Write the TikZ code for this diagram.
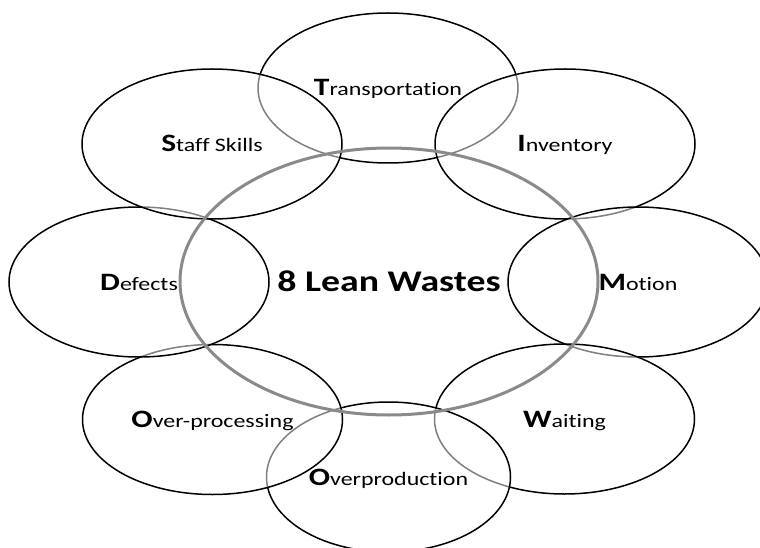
\documentclass[tikz,border=0pt]{standalone}
\usepackage{graphicx}
\usepackage{fontspec}
\setmainfont{Carlito}[Ligatures={NoCommon}]
\usetikzlibrary{shapes.geometric}
\newcommand{\wastelabel}[2]{\scalebox{1.26}[1]{\fontsize{25}{25}\selectfont\bfseries #1\fontsize{19}{19}\selectfont\mdseries #2}}
\definecolor{ringgrey}{RGB}{138,138,138}
\begin{document}
\begin{tikzpicture}[x=1pt,y=-1pt,
  waste/.style={ellipse, draw=black, line width=1.5pt, fill=white, fill opacity=0.5, text opacity=1,
    inner sep=0pt, minimum width=260pt, minimum height=150pt, text height=16pt, text depth=0pt},
  hub/.style={ellipse, draw=ringgrey, line width=3pt, inner sep=0pt,
    minimum width=418pt, minimum height=267pt, text height=19.5pt, text depth=0pt}]
\useasboundingbox (0,0) rectangle (760,548);
\clip (0,0) rectangle (760,548);
\node[waste] (trans) at (388,88) {\wastelabel{T}{ransportation}};
\node[waste] (inv) at (565,144) {\wastelabel{I}{nventory}};
\node[waste] (motion) at (638,282) {\wastelabel{M}{otion}};
\node[waste] (wait) at (564.5,419) {\wastelabel{W}{aiting}};
\node[waste, minimum width=244pt] (overprod) at (388.5,477) {\wastelabel{O}{verproduction}};
\node[waste] (overproc) at (212.5,419.5) {\wastelabel{O}{ver-processing}};
\node[waste] (defects) at (139,282) {\wastelabel{D}{efects}};
\node[waste] (staff) at (212,144) {\wastelabel{S}{taff Skills}};
\node[hub] (hub) at (389,281.5) {\scalebox{1.26}[1]{\fontsize{30}{30}\selectfont\bfseries 8 Lean Wastes}};
\end{tikzpicture}
\end{document}
